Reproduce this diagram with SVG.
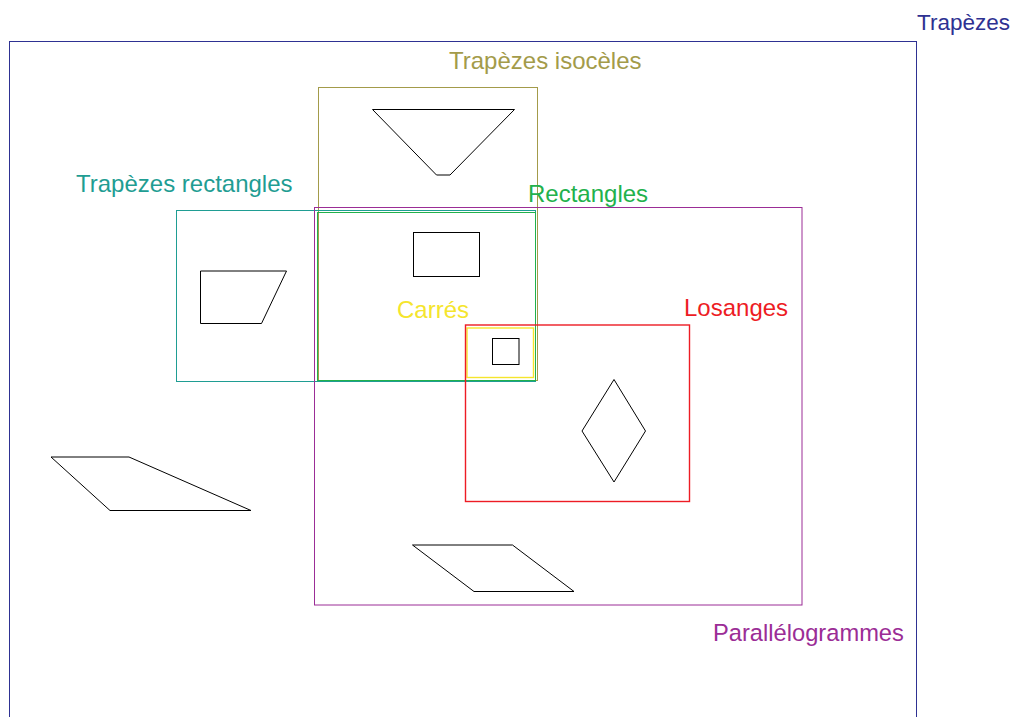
<svg xmlns="http://www.w3.org/2000/svg" width="1015" height="717" viewBox="0 0 1015 717">
<style>
rect.set{fill:none;stroke-width:1}
.shape{fill:none;stroke:#000;stroke-width:1;stroke-linejoin:miter}
text{font-family:"Liberation Sans",Arial,sans-serif;font-size:24px}
</style>
<rect width="1015" height="717" fill="#fff"/>
<g id="trapezes">
<rect class="set" x="9.5" y="41.5" width="907" height="700" style="stroke:#2e3192"/>
<text x="917" y="30" fill="#2e3192" style="font-size:22.5px">Trapèzes</text>
</g>
<g id="trapezes-isoceles">
<rect class="set" x="318.5" y="87.5" width="219" height="293" style="stroke:#a39b4a"/>
<text x="449" y="69" fill="#a39b4a">Trapèzes isocèles</text>
<polygon class="shape" points="372.5,109.5 514.5,109.5 450,175 436.5,175"/>
</g>
<g id="trapezes-rectangles">
<rect class="set" x="176.5" y="210.5" width="359" height="171" style="stroke:#1f9d93"/>
<text x="76" y="192" fill="#1f9d93">Trapèzes rectangles</text>
<polygon class="shape" points="200.5,271 286.5,271 261.5,323.5 200.5,323.5"/>
</g>
<g id="parallelogrammes">
<rect class="set" x="314.5" y="207.5" width="487.5" height="397.5" style="stroke:#9b2d96"/>
<text x="713" y="641" fill="#9b2d96" style="font-size:23.7px">Parallélogrammes</text>
<polygon class="shape" points="412.5,545 512.5,545 574,591.5 474,591.5"/>
</g>
<g id="rectangles">
<rect class="set" x="317.5" y="212.5" width="218" height="168" style="stroke:#22b14c"/>
<text x="528" y="201.5" fill="#22b14c">Rectangles</text>
<rect class="shape" x="413.5" y="232.5" width="66" height="44"/>
</g>
<g id="carres">
<rect class="set" x="467" y="328" width="66.5" height="49.5" style="stroke:#f5e52d;stroke-width:1.4"/>
<text x="397" y="318" fill="#f5e52d">Carrés</text>
<rect class="shape" x="492.5" y="338.5" width="26.5" height="26"/>
</g>
<g id="losanges">
<rect class="set" x="465.5" y="325" width="224" height="176.5" style="stroke:#ed1c24;stroke-width:1.4"/>
<text x="684" y="316" fill="#ed1c24">Losanges</text>
<polygon class="shape" points="614,379.5 645.5,431 614,482 582,431"/>
</g>
<g id="parallelogramme-seul">
<polygon class="shape" points="51,457 129,457 251,510.5 110,510.5"/>
</g>
</svg>
